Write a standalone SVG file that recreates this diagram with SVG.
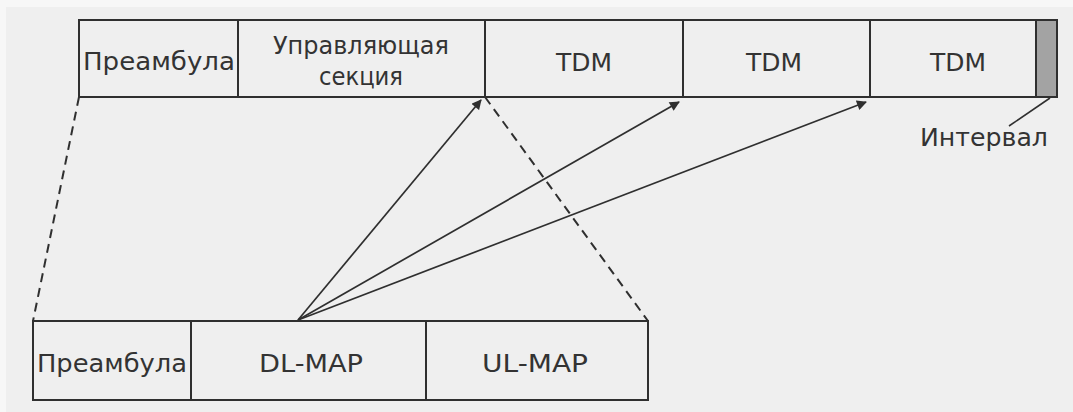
<svg xmlns="http://www.w3.org/2000/svg" width="1073" height="412" viewBox="0 0 1073 412">
<defs>
<style>
.box{fill:none;stroke:#2f2f2f;stroke-width:2}
.div{stroke:#2f2f2f;stroke-width:2}
.lbl{font-family:"DejaVu Sans","Liberation Sans",sans-serif;font-size:24px;fill:#333;text-anchor:middle}
.dash{stroke:#2f2f2f;stroke-width:2;stroke-dasharray:9,6;fill:none}
.arr{stroke:#2f2f2f;stroke-width:1.7;fill:none;marker-end:url(#ah)}
</style>
<marker id="ah" viewBox="0 0 10 10" refX="9" refY="5" markerWidth="11" markerHeight="10" markerUnits="userSpaceOnUse" orient="auto">
<path d="M0,0 L10,5 L0,10 z" fill="#2f2f2f"/>
</marker>
</defs>
<rect width="1073" height="412" fill="#f7f7f7"/>
<rect x="6" y="7" width="1067" height="405" fill="#efefef"/>
<g id="connectors">
<line class="dash" x1="79" y1="97" x2="33" y2="321"/>
<line class="dash" x1="485" y1="97" x2="648" y2="321"/>
<line class="arr" x1="298" y1="320" x2="481" y2="100"/>
<line class="arr" x1="298" y1="320" x2="679" y2="102"/>
<line class="arr" x1="298" y1="320" x2="866" y2="102"/>
<line stroke="#2f2f2f" stroke-width="1.6" x1="1050" y1="98" x2="1009" y2="126"/>
</g>
<g id="top-frame">
<rect class="box" x="79" y="20" width="978" height="77"/>
</g>
<g id="top-preamble">
<line class="div" x1="238" y1="20" x2="238" y2="97"/>
<text class="lbl" x="159" y="70" textLength="152" lengthAdjust="spacingAndGlyphs">Преамбула</text>
</g>
<g id="top-control">
<line class="div" x1="485" y1="20" x2="485" y2="97"/>
<text class="lbl" x="361" y="54" textLength="176" lengthAdjust="spacingAndGlyphs">Управляющая</text>
<text class="lbl" x="361" y="85" textLength="84" lengthAdjust="spacingAndGlyphs">секция</text>
</g>
<g id="tdm1">
<line class="div" x1="683" y1="20" x2="683" y2="97"/>
<text class="lbl" x="584" y="71" textLength="56" lengthAdjust="spacingAndGlyphs">TDM</text>
</g>
<g id="tdm2">
<line class="div" x1="870" y1="20" x2="870" y2="97"/>
<text class="lbl" x="774" y="71" textLength="56" lengthAdjust="spacingAndGlyphs">TDM</text>
</g>
<g id="tdm3">
<text class="lbl" x="958" y="71" textLength="56" lengthAdjust="spacingAndGlyphs">TDM</text>
</g>
<g id="interval">
<rect x="1036" y="20" width="21" height="77" fill="#a3a3a3" stroke="#2f2f2f" stroke-width="2"/>
<text class="lbl" x="984" y="146" textLength="128" lengthAdjust="spacingAndGlyphs">Интервал</text>
</g>
<g id="bottom-frame">
<rect class="box" x="33" y="321" width="615" height="79"/>
</g>
<g id="bottom-preamble">
<line class="div" x1="191" y1="321" x2="191" y2="400"/>
<text class="lbl" x="112" y="372" textLength="150" lengthAdjust="spacingAndGlyphs">Преамбула</text>
</g>
<g id="dl-map">
<line class="div" x1="426" y1="321" x2="426" y2="400"/>
<text class="lbl" x="311" y="372" textLength="104" lengthAdjust="spacingAndGlyphs">DL-MAP</text>
</g>
<g id="ul-map">
<text class="lbl" x="535" y="372" textLength="106" lengthAdjust="spacingAndGlyphs">UL-MAP</text>
</g>
</svg>
